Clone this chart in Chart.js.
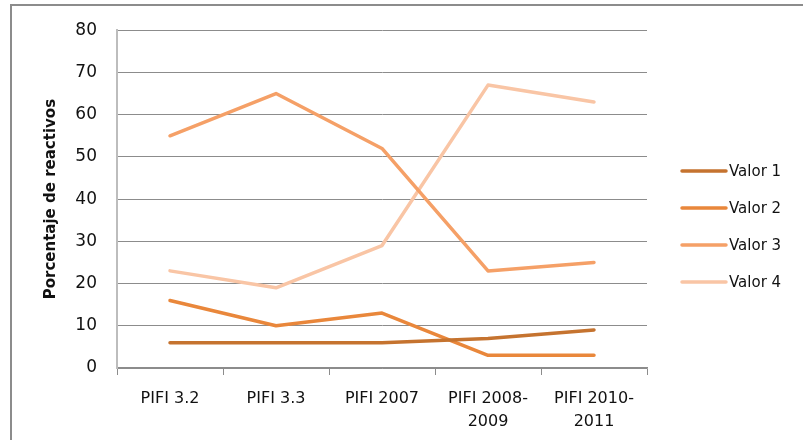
<!DOCTYPE html>
<html>
<head>
<meta charset="utf-8">
<script src="https://cdn.jsdelivr.net/npm/chart.js@4"></script>
<style>
  html, body { margin:0; padding:0; background:#fff; overflow:hidden; }
  #wrap { position:relative; width:803px; height:440px; }
  #frame { position:absolute; left:10px; top:4px; width:900px; height:500px; border:2px solid #8c8c8c; box-sizing:border-box; }
  canvas { position:absolute; left:0; top:0; }
</style>
</head>
<body>
<div id="wrap">
  <div id="frame"></div>
  <canvas id="c" width="803" height="440"></canvas>
</div>
<script>
// Porcentaje de reactivos por periodo PIFI
const categorias = [["PIFI 3.2"], ["PIFI 3.3"], ["PIFI 2007"], ["PIFI 2008-", "2009"], ["PIFI 2010-", "2011"]];
const valor1 = [6, 6, 6, 7, 9];
const valor2 = [16, 10, 13, 3, 3];
const valor3 = [55, 65, 52, 23, 25];
const valor4 = [23, 19, 29, 67, 63];
const nombres = ["Valor 1", "Valor 2", "Valor 3", "Valor 4"];
const colores = ["#c5732f", "#e9873b", "#f5a067", "#f9c5a5"];
const yTicks = [0, 10, 20, 30, 40, 50, 60, 70, 80];

const FONT = "'DejaVu Sans', sans-serif";
const serie = (d, i) => ({ label:nombres[i], data:d, borderColor:colores[i], backgroundColor:colores[i],
  borderWidth:3.5, pointRadius:0, tension:0, borderCapStyle:"round", borderJoinStyle:"round" });

// Leyenda a la derecha, dibujada a mano
const leyenda = {
  id:"leyenda",
  afterDraw(c) {
    const ctx = c.ctx;
    const rows = [171, 208, 245, 282];
    ctx.save();
    c.data.datasets.forEach((ds, i) => {
      ctx.strokeStyle = ds.borderColor; ctx.lineWidth = 3.5; ctx.lineCap = "round";
      ctx.beginPath(); ctx.moveTo(682, rows[i]); ctx.lineTo(726, rows[i]); ctx.stroke();
      ctx.fillStyle = "#111"; ctx.font = "15px " + FONT; ctx.textBaseline = "middle";
      ctx.fillText(ds.label, 729, rows[i] + 1);
    });
    ctx.restore();
  },
};

new Chart(document.getElementById("c"), {
  type:"line",
  data:{ labels:categorias, datasets:[valor1, valor2, valor3, valor4].map(serie) },
  options:{
    responsive:false, animation:false, devicePixelRatio:1,
    layout:{ padding:{ left:42, top:28, right:156, bottom:0 } },
    scales:{
      x:{
        offset:true,
        grid:{ display:true, drawOnChartArea:false, offset:true, color:"#8c8c8c", tickLength:7 },
        border:{ color:"#8c8c8c", width:1.5 },
        ticks:{ color:"#111", font:{ family:FONT, size:16, lineHeight:1.45 }, maxRotation:0, padding:12 },
        afterFit(s) { s.height = 72; },
      },
      y:{
        min:0, max:80,
        afterBuildTicks(s) { s.ticks = yTicks.map((v) => ({ value:v })); },
        grid:{ color:"#8c8c8c", drawTicks:false },
        border:{ color:"#bdbdbd", width:2 },
        ticks:{ color:"#111", font:{ family:FONT, size:17 }, padding:20 },
        title:{ display:true, text:"Porcentaje de reactivos", color:"#111", padding:0,
                font:{ family:FONT, size:15, weight:"bold" } },
        afterFit(s) { s.width = 75; },
      },
    },
    plugins:{ legend:{ display:false }, tooltip:{ enabled:false } },
  },
  plugins:[leyenda],
});
</script>
</body>
</html>
